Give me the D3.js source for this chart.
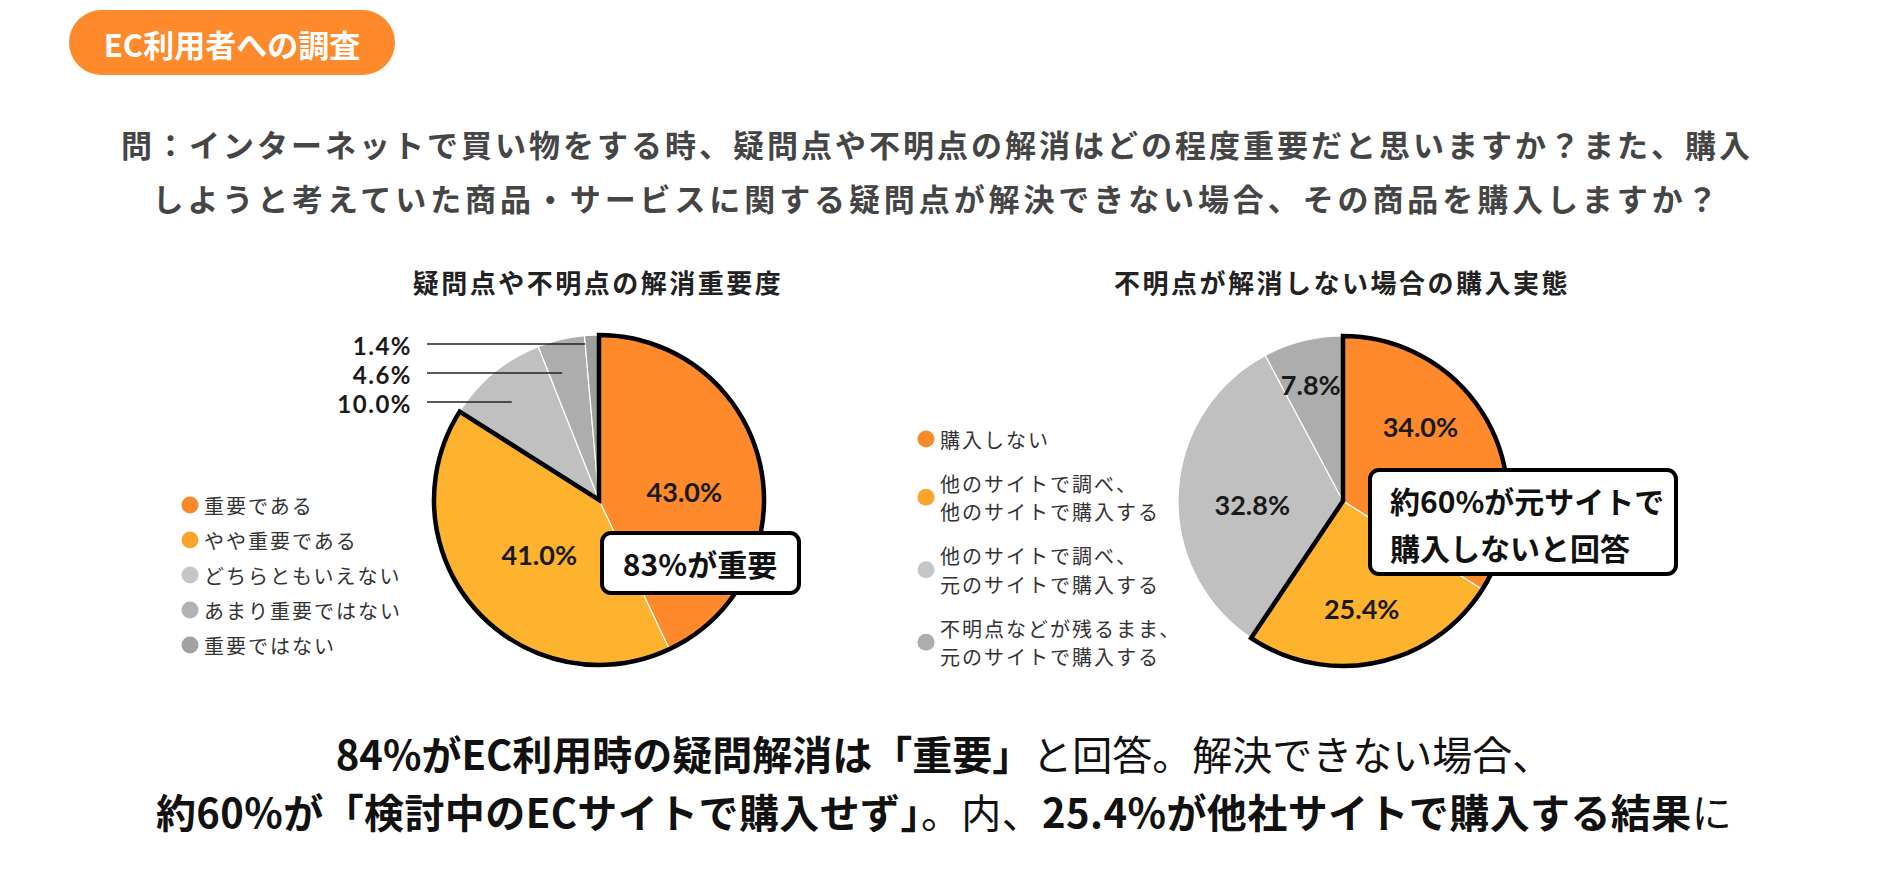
<!DOCTYPE html>
<html>
<head>
<meta charset="utf-8">
<script src="https://cdn.jsdelivr.net/npm/d3@7"></script>
<style>
  html, body { margin: 0; padding: 0; background: #fff; }
  svg { display: block; font-family: "Noto Sans CJK JP", "Noto Sans", sans-serif; }
</style>
</head>
<body>
<svg id="chart" width="1899" height="894"></svg>
<script>
// ---------------- DATA ----------------
const badgeText = "EC利用者への調査";
const questionLines = [
  "問：インターネットで買い物をする時、疑問点や不明点の解消はどの程度重要だと思いますか？また、購入",
  "しようと考えていた商品・サービスに関する疑問点が解決できない場合、その商品を購入しますか？"
];

const chart1Title = "疑問点や不明点の解消重要度";
const chart1Categories = ["重要である", "やや重要である", "どちらともいえない", "あまり重要ではない", "重要ではない"];
const chart1Values = [43.0, 41.0, 10.0, 4.6, 1.4];
const chart1Colors = ["#FE8A2B", "#FDB32D", "#C0C0C0", "#ADADAD", "#9E9E9E"];
const chart1LegendColors = ["#F98A2C", "#FCA42E", "#C6C6C6", "#B2B2B2", "#A2A2A2"];
const chart1HighlightCount = 2;
const chart1Callout = ["83%が重要"];

const chart2Title = "不明点が解消しない場合の購入実態";
const chart2Categories = [
  ["購入しない"],
  ["他のサイトで調べ、", "他のサイトで購入する"],
  ["他のサイトで調べ、", "元のサイトで購入する"],
  ["不明点などが残るまま、", "元のサイトで購入する"]
];
const chart2Values = [34.0, 25.4, 32.8, 7.8];
const chart2Colors = ["#FE8A2B", "#FDB32D", "#C0C0C0", "#ADADAD"];
const chart2LegendColors = ["#F98A2C", "#FCA42E", "#C6C6C6", "#ADADAD"];
const chart2HighlightCount = 2;
const chart2Callout = ["約60%が元サイトで", "購入しないと回答"];

// bottom summary: [text, bold?]
const summaryLine1 = [["84%がEC利用時の疑問解消は「重要」", true], ["と回答。解決できない場合、", false]];
const summaryLine2 = [["約60%が「検討中のECサイトで購入せず」", true], ["。内、", false], ["25.4%が他社サイトで購入する結果", true], ["に", false]];

// ---------------- LAYOUT ----------------
const R = 165;
const fmt = v => v.toFixed(1) + "%";
const numFont = "Lato, 'Noto Sans CJK JP', sans-serif";
const svg = d3.select("#chart");

// badge
svg.append("rect").attr("x", 69).attr("y", 10).attr("width", 326).attr("height", 65)
  .attr("rx", 32.5).attr("fill", "#FE8A2B");
svg.append("text").attr("x", 232).attr("y", 43).attr("text-anchor", "middle")
  .attr("dominant-baseline", "central").attr("fill", "#fff")
  .attr("font-size", 31).attr("font-weight", 700).text(badgeText);

// question
const qSpacing = [3, 3.9];
questionLines.forEach((line, i) => {
  svg.append("text").attr("x", 937).attr("y", 143 + i * 54)
    .attr("text-anchor", "middle").attr("dominant-baseline", "central")
    .attr("fill", "#454545").attr("font-size", 31).attr("font-weight", 700)
    .attr("letter-spacing", qSpacing[i]).text(line);
});

function drawPie(cfg) {
  const g = svg.append("g").attr("transform", `translate(${cfg.cx},${cfg.cy})`);
  const pie = d3.pie().sort(null).value(d => d);
  const arcs = pie(cfg.values);
  const arc = d3.arc().innerRadius(0).outerRadius(R);

  g.selectAll("path.slice").data(arcs).join("path")
    .attr("class", "slice")
    .attr("d", arc)
    .attr("fill", (d, i) => cfg.colors[i])
    .attr("stroke", "#fff").attr("stroke-width", 1.2);

  // thick outline around highlighted group
  const hl = arcs.slice(0, cfg.highlight);
  const outline = d3.arc().innerRadius(0).outerRadius(R)
    ({ startAngle: hl[0].startAngle, endAngle: hl[hl.length - 1].endAngle });
  g.append("path").attr("d", outline).attr("fill", "none")
    .attr("stroke", "#000").attr("stroke-width", 4.5).attr("stroke-linejoin", "miter");

  // inside labels
  arcs.forEach((d, i) => {
    const lp = cfg.labelPolar[i];
    if (!lp) return;
    const a = (d.startAngle + d.endAngle) / 2 + lp[0] * Math.PI / 180;
    const r = lp[1] * R;
    g.append("text").attr("x", r * Math.sin(a)).attr("y", -r * Math.cos(a))
      .attr("text-anchor", "middle").attr("dominant-baseline", "central")
      .attr("font-family", numFont)
      .attr("font-size", 27).attr("font-weight", 700).attr("fill", "#1a1a1a")
      .text(fmt(d.data));
  });

  // outside labels with leader lines
  if (cfg.outside) {
    const o = cfg.outside;
    o.indices.forEach((idx, k) => {
      const d = arcs[idx];
      const y = o.topY + k * o.step;
      const a = (d.startAngle + d.endAngle) / 2;
      const yl = y - cfg.cy;
      const r = -yl / Math.cos(a);
      const xe = cfg.cx + r * Math.sin(a) + o.endShift;
      svg.append("line").attr("x1", o.lineX).attr("x2", xe).attr("y1", y - 1).attr("y2", y - 1)
        .attr("stroke", "#222").attr("stroke-width", 1.4);
      svg.append("text").attr("x", o.textX).attr("y", y).attr("text-anchor", "end")
        .attr("dominant-baseline", "central").attr("font-family", numFont)
        .attr("font-size", 24).attr("font-weight", 700).attr("letter-spacing", 1.5)
        .attr("fill", "#1a1a1a").text(fmt(d.data));
    });
  }

  // title
  svg.append("text").attr("x", cfg.titleX).attr("y", 281).attr("text-anchor", "middle")
    .attr("dominant-baseline", "central").attr("font-size", 26).attr("font-weight", 700)
    .attr("letter-spacing", 2.5).attr("fill", "#222").text(cfg.title);

  // legend
  let y = cfg.legend.y0;
  cfg.categories.forEach((lines, i) => {
    const L = Array.isArray(lines) ? lines : [lines];
    const h = (L.length - 1) * cfg.legend.lineH;
    svg.append("circle").attr("cx", cfg.legend.x).attr("cy", y + h / 2).attr("r", 8.5)
      .attr("fill", cfg.legendColors[i]);
    L.forEach((t, j) => {
      svg.append("text").attr("x", cfg.legend.x + 14).attr("y", y + j * cfg.legend.lineH)
        .attr("dominant-baseline", "central").attr("font-size", 20)
        .attr("letter-spacing", 2).attr("fill", "#333").text(t);
    });
    y += h + cfg.legend.gap;
  });

  // callout box
  const c = cfg.callout;
  svg.append("rect").attr("x", c.x).attr("y", c.y).attr("width", c.w).attr("height", c.h)
    .attr("rx", 9).attr("fill", "#fff").attr("stroke", "#000").attr("stroke-width", 4);
  cfg.calloutText.forEach((t, j) => {
    svg.append("text").attr("x", c.tx).attr("y", c.ty + j * 47)
      .attr("text-anchor", c.anchor).attr("dominant-baseline", "central")
      .attr("font-size", 30).attr("font-weight", 700).attr("fill", "#111").text(t);
  });
}

drawPie({
  cx: 599, cy: 500, values: chart1Values, colors: chart1Colors, highlight: chart1HighlightCount,
  labelPolar: [[7, 0.52], [-1, 0.49], null, null, null],
  outside: { indices: [4, 3, 2], topY: 345, step: 29, textX: 412, lineX: 427, endShift: -7 },
  title: chart1Title, titleX: 598,
  categories: chart1Categories, legendColors: chart1LegendColors,
  legend: { x: 190, y0: 505, lineH: 28.5, gap: 35 },
  callout: { x: 602, y: 533, w: 197, h: 60, tx: 700, ty: 563, anchor: "middle" },
  calloutText: chart1Callout
});

drawPie({
  cx: 1343, cy: 501, values: chart2Values, colors: chart2Colors, highlight: chart2HighlightCount,
  labelPolar: [[-15, 0.65], [2, 0.66], [-5, 0.55], [-1.5, 0.73]],
  outside: null,
  title: chart2Title, titleX: 1342,
  categories: chart2Categories, legendColors: chart2LegendColors,
  legend: { x: 926, y0: 439, lineH: 28.5, gap: 44 },
  callout: { x: 1370, y: 470, w: 306, h: 104, tx: 1390, ty: 500, anchor: "start" },
  calloutText: chart2Callout
});

// summary
[[summaryLine1, 753, 0], [summaryLine2, 811, 0.4]].forEach(([segs, y, ls]) => {
  const t = svg.append("text").attr("x", 944).attr("y", y).attr("text-anchor", "middle")
    .attr("dominant-baseline", "central").attr("font-size", 40).attr("fill", "#111")
    .attr("letter-spacing", ls);
  segs.forEach(([s, b]) => t.append("tspan").attr("font-weight", b ? 700 : 400).text(s));
});
</script>
</body>
</html>
